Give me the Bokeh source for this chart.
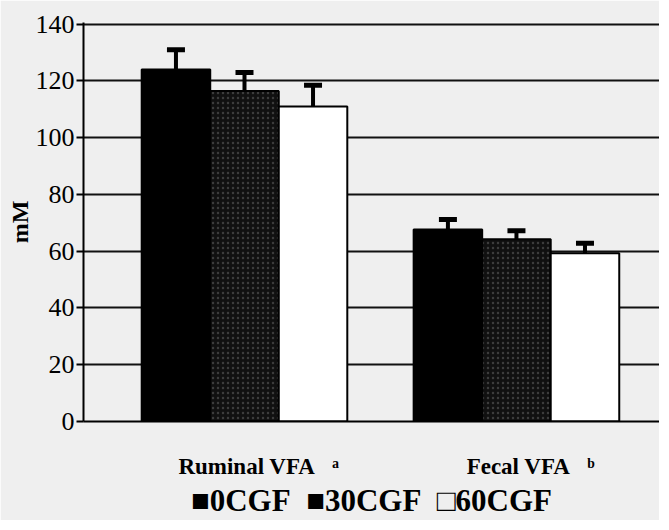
from bokeh.plotting import figure
from bokeh.models import (Range1d, FixedTicker, Whisker, TeeHead, ColumnDataSource)
from bokeh.transform import dodge
from bokeh.embed import file_html
from bokeh.resources import INLINE

categories = ["\u00a0" * 5 + "Ruminal VFA\u00a0\u00a0\u00a0\u1d43",
              "\u00a0" * 5 + "Fecal VFA\u00a0\u00a0\u00a0\u1d47"]
series = ["0CGF", "30CGF", "60CGF"]
legend_marks = ["\u25a0", "\u25a0", "\u25a1"]
cgf0 = [124.0, 67.7]
cgf0_err = [7.0, 3.5]
cgf30 = [116.5, 64.2]
cgf30_err = [6.5, 3.0]
cgf60 = [111.0, 59.3]
cgf60_err = [7.5, 3.5]
y_ticks = [0, 20, 40, 60, 80, 100, 120, 140]

idx = list(range(len(categories)))
src = ColumnDataSource(dict(
    x=idx,
    v0=cgf0, v30=cgf30, v60=cgf60,
    u0=[v + e for v, e in zip(cgf0, cgf0_err)],
    u30=[v + e for v, e in zip(cgf30, cgf30_err)],
    u60=[v + e for v, e in zip(cgf60, cgf60_err)],
))

BG = "#efefef"
SERIF = "Liberation Serif"

p = figure(frame_width=576, frame_height=399, output_backend="svg", toolbar_location=None,
           x_range=Range1d(-0.592, 1.526), y_range=Range1d(0, 140.6),
           min_border_left=83, min_border_top=22, min_border_bottom=0,
           min_border_right=0)
p.background_fill_color = BG
p.border_fill_color = BG
p.outline_line_color = None

W = 0.252
cols = [("v0", "u0", -W, "#000000"), ("v30", "u30", 0.0, "#101010"), ("v60", "u60", W, "#ffffff")]
for (vk, uk, off, col) in cols:
    kw = {}
    if vk == "v30":
        kw = dict(hatch_pattern="dot", hatch_color="#3c3c3c", hatch_scale=5, hatch_weight=1)
    p.vbar(x=dodge("x", off), top=vk, width=W, bottom=0, source=src,
           fill_color=col, line_color="black", line_width=2, **kw)
    wk = Whisker(base=dodge("x", off), lower=vk, upper=uk, source=src,
                 line_color="black", line_width=4,
                 upper_head=TeeHead(size=18, line_width=5, line_color="black"),
                 lower_head=None, level="glyph")
    p.add_layout(wk)

# grid
p.xgrid.grid_line_color = None
p.ygrid.ticker = FixedTicker(ticks=y_ticks)
p.ygrid.grid_line_color = "#111111"
p.ygrid.grid_line_width = 2

# y axis
p.yaxis.ticker = FixedTicker(ticks=y_ticks)
p.yaxis.major_label_text_font = SERIF
p.yaxis.major_label_text_font_size = "26px"
p.yaxis.major_label_text_color = "black"
p.yaxis.major_label_standoff = 2
p.yaxis.major_tick_out = 7
p.yaxis.major_tick_in = 0
p.yaxis.major_tick_line_width = 2
p.yaxis.minor_tick_line_color = None
p.yaxis.axis_line_width = 2
p.yaxis.axis_label = "mM"
p.yaxis.axis_label_text_font = SERIF
p.yaxis.axis_label_text_font_style = "bold"
p.yaxis.axis_label_text_font_size = "24px"
p.yaxis.axis_label_text_color = "black"
p.yaxis.axis_label_standoff = 0

# x axis (category labels) with the series key as its axis label
p.xaxis.ticker = FixedTicker(ticks=idx)
p.xaxis.major_label_overrides = {i: c for i, c in zip(idx, categories)}
p.xaxis.major_label_text_font = SERIF
p.xaxis.major_label_text_font_style = "bold"
p.xaxis.major_label_text_font_size = "23px"
p.xaxis.major_label_text_color = "black"
p.xaxis.major_label_standoff = 32
p.xaxis.major_tick_out = 0
p.xaxis.major_tick_in = 0
p.xaxis.minor_tick_line_color = None
p.xaxis.axis_line_width = 2
p.xaxis.axis_label = "\u00a0\u00a0".join(m + s for m, s in zip(legend_marks, series))
p.xaxis.axis_label_text_font = SERIF
p.xaxis.axis_label_text_font_style = "bold"
p.xaxis.axis_label_text_font_size = "31px"
p.xaxis.axis_label_text_color = "black"
p.xaxis.axis_label_standoff = 1

open("out.html", "w").write(file_html(p, INLINE))
